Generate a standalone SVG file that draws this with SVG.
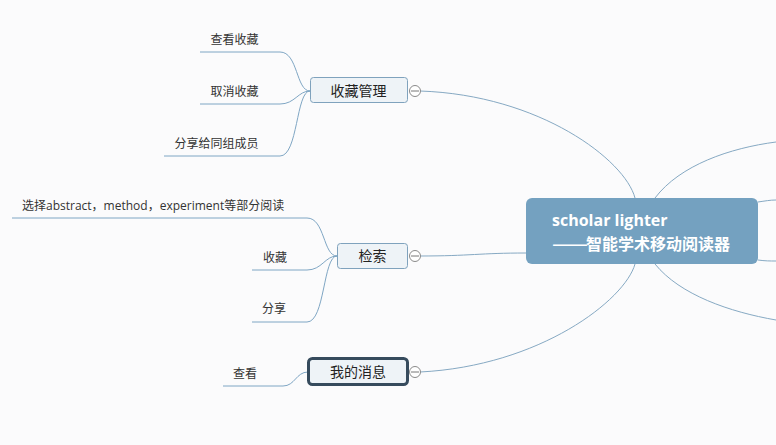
<svg xmlns="http://www.w3.org/2000/svg" width="776" height="445" viewBox="0 0 776 445">
<defs>
<style>
.bg{fill:#fbfbfc}
.conn path{fill:none;stroke:#7fa6c4;stroke-width:1}
.conn path.main{stroke:#86a9c3}
.leaf{font-family:"Open Sans","Noto Sans CJK SC",sans-serif;font-size:12px;fill:#333333}
.sub rect{fill:#eef3f7;stroke:#7fa2bd;stroke-width:1}
.subtxt{font-family:"Open Sans","Noto Sans CJK SC",sans-serif;font-size:14px;fill:#222222;text-anchor:middle}
.toggle circle{fill:#ffffff;stroke:#8a8a8a;stroke-width:1}
.toggle line{stroke:#777777;stroke-width:1}
.central rect{fill:#74a1c0}
.ctext{font-family:"Open Sans","Noto Sans CJK SC",sans-serif;font-size:16px;font-weight:bold;fill:#ffffff}
.dash{font-family:"Noto Sans CJK SC",sans-serif}
</style>
</defs>
<rect class="bg" x="0" y="0" width="776" height="445"/>

<g id="connectors" class="conn">
  <path class="main" d="M420,91 C540,95 625,160 635,198"/>
  <path class="main" d="M420,256 C470,256 480,253 526,253"/>
  <path class="main" d="M420,372 C540,366 625,300 635,264"/>
  <path class="main" d="M655,198 C680,165 730,148 776,142"/>
  <path class="main" d="M758,202 C765,201 770,200 776,200"/>
  <path class="main" d="M758,260 C765,261 770,261 776,261"/>
  <path class="main" d="M655,264 C680,295 730,312 776,320"/>
  <path d="M200,52 H280 C298,52 296,91 310,91"/>
  <path d="M200,104 H280 C295,104 298,91 310,91"/>
  <path d="M164,156 H280 C298,156 296,91 310,91"/>
  <path d="M12,218 H307 C325,218 323,256 337,256"/>
  <path d="M252,270 H307 C322,270 325,256 337,256"/>
  <path d="M252,322 H307 C325,322 323,256 337,256"/>
  <path d="M223,386 H283 C295,386 296,372 308,372"/>
</g>

<g id="central" class="central">
  <rect x="526" y="198" width="232" height="66" rx="6"/>
  <text class="ctext" x="552" y="226">scholar lighter</text>
  <text class="ctext" x="552" y="250"><tspan class="dash" textLength="36" lengthAdjust="spacingAndGlyphs">——</tspan><tspan x="586">智能学术移动阅读器</tspan></text>
</g>

<g id="node-shoucang-guanli" class="sub">
  <rect x="310.5" y="77.5" width="97" height="25" rx="3"/>
  <text class="subtxt" x="358.5" y="95.5">收藏管理</text>
  <g class="toggle"><circle cx="415" cy="91" r="5.5"/><line x1="411" y1="91" x2="419" y2="91"/></g>
</g>
<g id="node-jiansuo" class="sub">
  <rect x="337.5" y="243.5" width="70" height="25" rx="3"/>
  <text class="subtxt" x="372.5" y="261">检索</text>
  <g class="toggle"><circle cx="415" cy="256" r="5.5"/><line x1="411" y1="256" x2="419" y2="256"/></g>
</g>
<g id="node-wode-xiaoxi" class="sub">
  <rect x="308.5" y="358.5" width="99" height="26" rx="4" style="stroke:#364b5d;stroke-width:3"/>
  <text class="subtxt" x="358" y="377">我的消息</text>
  <g class="toggle"><circle cx="415" cy="372" r="5.5"/><line x1="411" y1="372" x2="419" y2="372"/></g>
</g>

<g id="leaf-chakan-shoucang"><text class="leaf" x="234.5" y="44" text-anchor="middle">查看收藏</text></g>
<g id="leaf-quxiao-shoucang"><text class="leaf" x="234.5" y="96" text-anchor="middle">取消收藏</text></g>
<g id="leaf-fenxiang-zuyuan"><text class="leaf" x="216.5" y="148" text-anchor="middle">分享给同组成员</text></g>
<g id="leaf-xuanze"><text class="leaf" x="22" y="210">选择abstract，method，experiment等部分阅读</text></g>
<g id="leaf-shoucang"><text class="leaf" x="275" y="262" text-anchor="middle">收藏</text></g>
<g id="leaf-fenxiang"><text class="leaf" x="274" y="313" text-anchor="middle">分享</text></g>
<g id="leaf-chakan"><text class="leaf" x="245" y="378" text-anchor="middle">查看</text></g>
</svg>
